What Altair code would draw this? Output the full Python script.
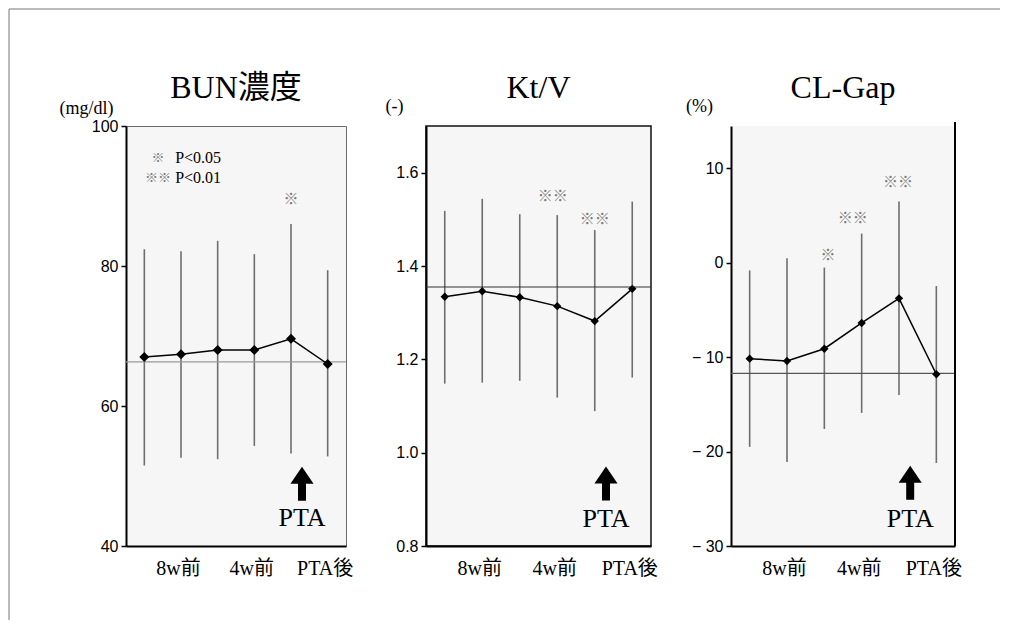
import altair as alt
import pandas as pd

# ---------------- data ----------------
x_pos = [1, 2, 3, 4, 5, 6]
x_tick_vals = [2, 4, 6]
x_tick_labels = ["8w前", "4w前", "PTA後"]

titles = ["BUN濃度", "Kt/V", "CL-Gap"]
units = ["(mg/dl)", "(-)", "(%)"]

bun_mean = [67.0, 67.4, 68.0, 68.0, 69.6, 66.0]
bun_upper = [82.4, 82.1, 83.6, 81.7, 86.0, 79.4]
bun_lower = [51.5, 52.6, 52.4, 54.3, 53.2, 52.8]
bun_ref = 66.3
bun_ticks = [40, 60, 80, 100]
bun_domain = [40, 100]
bun_sig_x = [5.0]
bun_sig_y = [89.6]
bun_sig_t = ["※"]
bun_arrow_y = 48.9
bun_pta_y = 44.0

ktv_mean = [1.334, 1.346, 1.333, 1.314, 1.282, 1.351]
ktv_upper = [1.518, 1.544, 1.511, 1.509, 1.477, 1.538]
ktv_lower = [1.148, 1.150, 1.154, 1.118, 1.089, 1.161]
ktv_ref = 1.355
ktv_ticks = [0.8, 1.0, 1.2, 1.4, 1.6]
ktv_domain = [0.8, 1.7]
ktv_sig_x = [3.88, 5.0]
ktv_sig_y = [1.55, 1.501]
ktv_sig_t = ["※※", "※※"]
ktv_arrow_y = 0.934
ktv_pta_y = 0.858

cl_mean = [-10.15, -10.4, -9.1, -6.37, -3.76, -11.8]
cl_upper = [-0.8, 0.5, -0.5, 3.1, 6.5, -2.45]
cl_lower = [-19.5, -21.1, -17.6, -15.9, -14.0, -21.2]
cl_ref = -11.7
cl_ticks = [-30, -20, -10, 0, 10]
cl_domain = [-30, 14.5]
cl_sig_x = [3.1, 3.76, 4.97]
cl_sig_y = [0.8, 4.8, 8.6]
cl_sig_t = ["※", "※※", "※※"]
cl_arrow_y = -23.3
cl_pta_y = -27.1

arrow_x = 5.3
pta_text = "PTA"

legend_sym = ["※", "※※"]
legend_txt = ["P<0.05", "P<0.01"]
legend_sym_x = 1.37
legend_txt_x = 1.84
legend_y = [95.4, 92.6]

# ---------------- style ----------------
SERIF = "Liberation Serif, Noto Sans CJK JP"
SANS = "Liberation Sans"
CJK = "Noto Sans CJK JP"
BG = "#f6f6f6"
ARROW = "M0,-1L0.68,0L0.235,0L0.235,1L-0.235,1L-0.235,0L-0.68,0Z"
H = 420

x_label_expr = "".join(
    f"datum.value == {v} ? '{l}' : " for v, l in zip(x_tick_vals, x_tick_labels)
) + "''"


def make_panel(idx, mean, upper, lower, ref, domain, ticks, width,
               sig_x, sig_y, sig_t, arrow_y, pta_y, ref_color,
               point_size, view_stroke, view_stroke_width, title_x, title_y,
               y_label_expr=None, y_format=None, extra=None):
    x_axis = alt.Axis(values=x_tick_vals, labelExpr=x_label_expr, title=None,
                      ticks=False, grid=False, domainColor="black", domainWidth=2,
                      labelFont=SERIF, labelFontSize=20, labelColor="black",
                      labelPadding=12, labelOffset=-3)
    ykw = dict(values=ticks, title=units[idx], titleAngle=0, titleX=title_x,
               titleY=title_y, titleAlign="center", titleBaseline="middle",
               titleFont=SERIF, titleFontSize=18, titleFontWeight="normal",
               titleColor="black", grid=False, domainColor="black",
               domainWidth=2, tickColor="black", tickSize=5, tickWidth=1.5,
               labelFont=SANS, labelFontSize=16, labelColor="black",
               labelPadding=3)
    if y_label_expr:
        ykw["labelExpr"] = y_label_expr
    if y_format:
        ykw["format"] = y_format
    y_axis = alt.Axis(**ykw)
    xs = alt.Scale(domain=[0.5, 6.5], nice=False, zero=False)
    ys = alt.Scale(domain=domain, nice=False, zero=False)

    def X(f):
        return alt.X(f, type="quantitative", scale=xs, axis=x_axis)

    def Y(f):
        return alt.Y(f, type="quantitative", scale=ys, axis=y_axis)

    df = pd.DataFrame({"x": x_pos, "mean": mean, "lo": lower, "hi": upper})
    base = alt.Chart(df)

    bars = base.mark_rule(color="#6e6e6e", strokeWidth=1.6).encode(
        x=X("x"), y=Y("lo"), y2="hi")
    refl = alt.Chart(pd.DataFrame({"ref": [ref]})).mark_rule(
        color=ref_color, strokeWidth=1.2).encode(y=Y("ref"))
    line = base.mark_line(color="black", strokeWidth=1.5).encode(
        x=X("x"), y=Y("mean"))
    pts = base.mark_point(shape="diamond", filled=True, color="black",
                          opacity=1, size=point_size).encode(x=X("x"), y=Y("mean"))
    sig = alt.Chart(pd.DataFrame({"x": sig_x, "y": sig_y, "t": sig_t})).mark_text(
        font=CJK, fontSize=15, color="#7a7a7a", baseline="middle").encode(
        x=X("x"), y=Y("y"), text="t:N")
    arrow = alt.Chart(pd.DataFrame({"x": [arrow_x], "y": [arrow_y]})).mark_point(
        shape=ARROW, filled=True, color="black", opacity=1, size=1156).encode(
        x=X("x"), y=Y("y"))
    pta = alt.Chart(pd.DataFrame({"x": [arrow_x], "y": [pta_y], "t": [pta_text]})).mark_text(
        font=SERIF, fontSize=26, color="black", baseline="middle").encode(
        x=X("x"), y=Y("y"), text="t:N")
    ttl = alt.Chart(pd.DataFrame({"t": [titles[idx]]})).mark_text(
        font=SERIF, fontSize=32, color="black", baseline="middle").encode(
        text="t:N", x=alt.value(width / 2), y=alt.value(-38))

    layers = [bars, refl, line, pts, sig, arrow, pta, ttl]
    if extra:
        layers += extra(X, Y)
    return alt.layer(*layers).properties(
        width=width, height=H,
        view=alt.ViewBackground(fill=BG, stroke=view_stroke,
                                strokeWidth=view_stroke_width))


def bun_extra(X, Y):
    sym = alt.Chart(pd.DataFrame({"x": [legend_sym_x] * 2, "y": legend_y,
                                  "t": legend_sym})).mark_text(
        font=CJK, fontSize=13, color="#7a7a7a", baseline="middle").encode(
        x=X("x"), y=Y("y"), text="t:N")
    txt = alt.Chart(pd.DataFrame({"x": [legend_txt_x] * 2, "y": legend_y,
                                  "t": legend_txt})).mark_text(
        font=SERIF, fontSize=16, color="black", baseline="middle",
        align="left").encode(x=X("x"), y=Y("y"), text="t:N")
    # outer figure frame (top and left edges)
    frame_top = alt.Chart(pd.DataFrame({"a": [0]})).mark_rule(
        color="#777", strokeWidth=1).encode(
        x=alt.value(-117), x2=alt.value(874), y=alt.value(-117))
    frame_left = alt.Chart(pd.DataFrame({"a": [0]})).mark_rule(
        color="#777", strokeWidth=1).encode(
        x=alt.value(-117), y=alt.value(-117), y2=alt.value(494))
    return [sym, txt, frame_top, frame_left]


def cl_extra(X, Y):
    right = alt.Chart(pd.DataFrame({"a": [0]})).mark_rule(
        color="black", strokeWidth=2).encode(
        x=alt.value(224), y=alt.value(-4), y2=alt.value(H))
    return [right]


p1 = make_panel(0, bun_mean, bun_upper, bun_lower, bun_ref, bun_domain,
                bun_ticks, 220, bun_sig_x, bun_sig_y, bun_sig_t, bun_arrow_y,
                bun_pta_y, "#9a9a9a", 100, "#6a6a6a", 1, -40, -18,
                extra=bun_extra)
p2 = make_panel(1, ktv_mean, ktv_upper, ktv_lower, ktv_ref, ktv_domain,
                ktv_ticks, 225, ktv_sig_x, ktv_sig_y, ktv_sig_t, ktv_arrow_y,
                ktv_pta_y, "#333333", 70, "#111111", 1.5, -32, -20,
                y_format=".1f")
p3 = make_panel(2, cl_mean, cl_upper, cl_lower, cl_ref, cl_domain,
                cl_ticks, 224, cl_sig_x, cl_sig_y, cl_sig_t, cl_arrow_y,
                cl_pta_y, "#555555", 70, "transparent", 0, -32, -20,
                y_label_expr="datum.value < 0 ? '− ' + (-datum.value) : datum.label",
                extra=cl_extra)

chart = alt.hconcat(p1, p2, p3, spacing=80, bounds="flush").properties(
    padding=0, background="white")

chart.save("out.html", embed_options={"renderer": "svg", "actions": False})
